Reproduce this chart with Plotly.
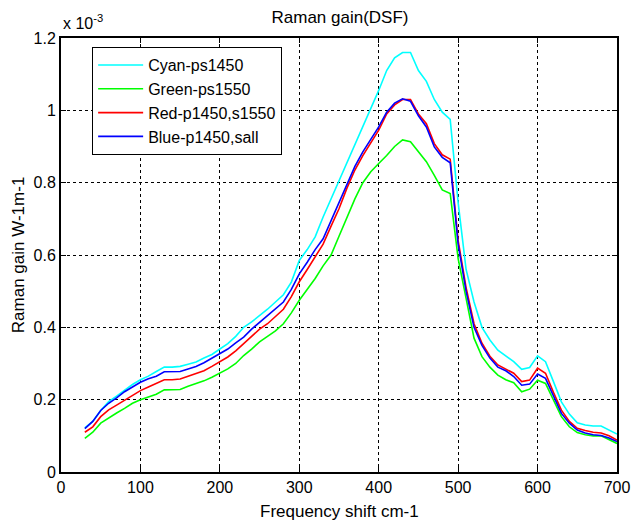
import plotly.graph_objects as go

# Frequency shift (cm-1)
freq = list(range(30, 701, 10))

# Raman gain values in units of 1e-3 W-1m-1
cyan_ps1450 = [0.122, 0.14, 0.17, 0.195, 0.21, 0.227, 0.242, 0.255, 0.265, 0.278,
               0.29, 0.29, 0.292, 0.298, 0.304, 0.315, 0.325, 0.34, 0.355, 0.375,
               0.4, 0.415, 0.432, 0.45, 0.47, 0.49, 0.525, 0.585, 0.615, 0.65,
               0.705, 0.755, 0.805, 0.86, 0.91, 0.96, 1.005, 1.055, 1.11, 1.145,
               1.16, 1.16, 1.11, 1.08, 1.03, 0.995, 0.975, 0.745, 0.56, 0.47,
               0.4, 0.365, 0.337, 0.32, 0.305, 0.284, 0.289, 0.321, 0.305, 0.25,
               0.194, 0.16, 0.136, 0.13, 0.127, 0.127, 0.117, 0.105]

green_ps1550 = [0.093, 0.11, 0.135, 0.15, 0.163, 0.176, 0.19, 0.2, 0.208, 0.215,
                0.227, 0.227, 0.228, 0.237, 0.244, 0.252, 0.262, 0.273, 0.285, 0.3,
                0.322, 0.34, 0.36, 0.375, 0.39, 0.41, 0.44, 0.475, 0.505, 0.535,
                0.57, 0.6, 0.652, 0.705, 0.755, 0.8, 0.83, 0.853, 0.875, 0.9,
                0.918, 0.913, 0.885, 0.858, 0.82, 0.78, 0.77, 0.59, 0.48, 0.37,
                0.319, 0.29, 0.268, 0.255, 0.247, 0.222, 0.229, 0.254, 0.245, 0.2,
                0.153, 0.125, 0.109, 0.103, 0.1, 0.1, 0.09, 0.079]

red_p1450_s1550 = [0.11, 0.125, 0.153, 0.172, 0.185, 0.199, 0.212, 0.225, 0.235, 0.245,
                   0.255, 0.255, 0.257, 0.265, 0.272, 0.28, 0.292, 0.305, 0.318, 0.335,
                   0.355, 0.375, 0.395, 0.41, 0.43, 0.45, 0.485, 0.526, 0.56, 0.595,
                   0.63, 0.68, 0.728, 0.785, 0.835, 0.875, 0.91, 0.945, 0.99, 1.015,
                   1.03, 1.03, 0.99, 0.963, 0.908, 0.877, 0.865, 0.64, 0.51, 0.41,
                   0.356, 0.32, 0.296, 0.285, 0.273, 0.25, 0.254, 0.287, 0.273, 0.22,
                   0.171, 0.14, 0.121, 0.115, 0.11, 0.108, 0.1, 0.088]

blue_p1450_sall = [0.12, 0.14, 0.17, 0.19, 0.205, 0.222, 0.235, 0.248, 0.258, 0.265,
                   0.277, 0.277, 0.278, 0.285, 0.292, 0.302, 0.315, 0.327, 0.34, 0.357,
                   0.373, 0.395, 0.414, 0.432, 0.452, 0.47, 0.505, 0.548, 0.58, 0.615,
                   0.645, 0.695, 0.745, 0.8, 0.845, 0.885, 0.92, 0.954, 0.995, 1.02,
                   1.032, 1.025, 0.985, 0.954, 0.899, 0.87, 0.855, 0.63, 0.5, 0.4,
                   0.35, 0.315, 0.29, 0.28, 0.264, 0.24, 0.243, 0.271, 0.259, 0.21,
                   0.162, 0.135, 0.116, 0.108, 0.103, 0.101, 0.094, 0.084]

series_names = ["Cyan-ps1450", "Green-ps1550", "Red-p1450,s1550", "Blue-p1450,sall"]
series_values = [cyan_ps1450, green_ps1550, red_p1450_s1550, blue_p1450_sall]
series_colors = ["#00FFFF", "#00FF00", "#FF0000", "#0000FF"]

x_ticks = [0, 100, 200, 300, 400, 500, 600, 700]
y_ticks = [0, 0.2, 0.4, 0.6, 0.8, 1.0, 1.2]
y_tick_labels = ["0", "0.2", "0.4", "0.6", "0.8", "1", "1.2"]

FONT = "Arial, Liberation Sans, sans-serif"

fig = go.Figure()
for name, vals, col in zip(series_names, series_values, series_colors):
    fig.add_trace(go.Scatter(x=freq, y=vals, mode="lines", name=name,
                             line=dict(color=col, width=1.6)))

axis_common = dict(
    showline=True, linecolor="black", linewidth=2, mirror="allticks",
    ticks="inside", ticklen=5, tickcolor="black", tickwidth=1,
    showgrid=True, gridcolor="black", griddash="dot", gridwidth=1,
    zeroline=False, automargin=False,
    tickfont=dict(family=FONT, size=16, color="black"),
)

fig.update_xaxes(range=[0, 700], tickvals=x_ticks, **axis_common)
fig.update_yaxes(range=[0, 1.2], tickvals=y_ticks, ticktext=y_tick_labels, **axis_common)

fig.update_layout(
    width=632, height=527,
    margin=dict(l=61, r=15, t=38, b=55),
    paper_bgcolor="white", plot_bgcolor="white",
    title=dict(text="Raman gain(DSF)", x=0.538, xanchor="center", y=0.967, yanchor="middle",
               font=dict(family=FONT, size=17, color="black")),
    showlegend=True,
    legend=dict(x=0.056, y=0.979, xanchor="left", yanchor="top",
                bgcolor="white", bordercolor="black", borderwidth=1,
                font=dict(family=FONT, size=16, color="black"),
                tracegroupgap=0, itemwidth=45),
    annotations=[
        dict(text="x 10<sup>-3</sup>", xref="paper", yref="paper",
             x=0, y=1.0, xanchor="left", yanchor="bottom", yshift=4,
             showarrow=False, font=dict(family=FONT, size=16, color="black")),
        dict(text="Frequency shift cm-1", xref="paper", yref="paper",
             x=0.5, y=-0.09, xanchor="center", yanchor="middle",
             showarrow=False, font=dict(family=FONT, size=17, color="black")),
        dict(text="Raman gain W-1m-1", xref="paper", yref="paper",
             x=-0.077, y=0.5, xanchor="center", yanchor="middle", textangle=-90,
             showarrow=False, font=dict(family=FONT, size=17, color="black")),
    ],
)

fig.write_html("out.html")
